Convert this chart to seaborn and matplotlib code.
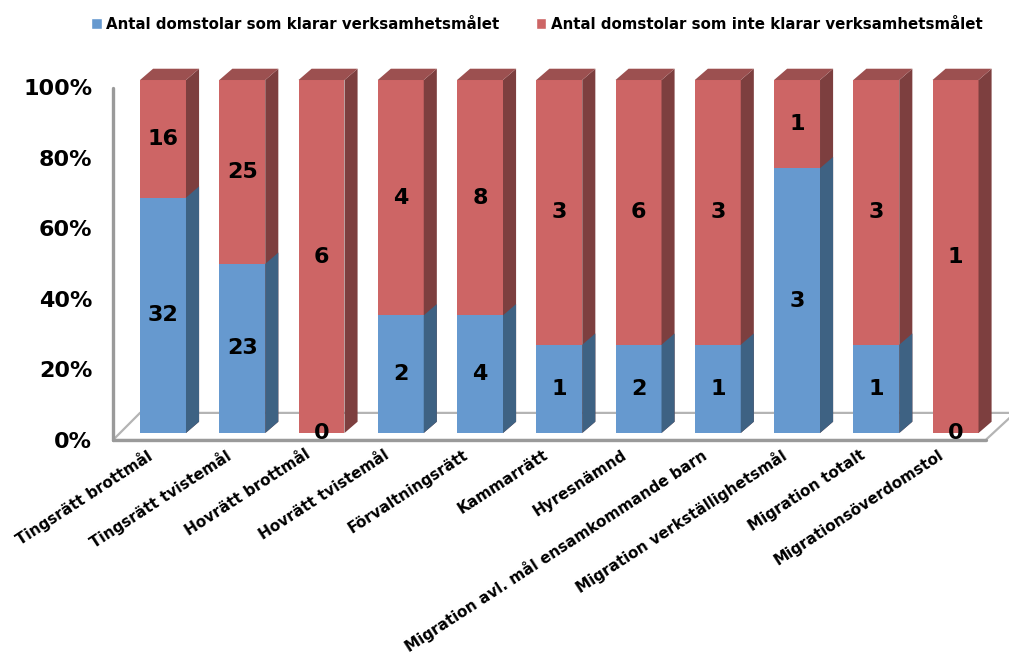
import matplotlib
matplotlib.use("Agg")
import matplotlib.pyplot as plt
import matplotlib.transforms as mtransforms
from matplotlib.patches import Patch, Polygon
import numpy as np
import pandas as pd
import seaborn as sns

# Data
categories = ['Tingsrätt brottmål', 'Tingsrätt tvistemål', 'Hovrätt brottmål',
              'Hovrätt tvistemål', 'Förvaltningsrätt', 'Kammarrätt', 'Hyresnämnd',
              'Migration avl. mål ensamkommande barn', 'Migration verkställighetsmål',
              'Migration totalt', 'Migrationsöverdomstol']
klarar = [32, 23, 0, 2, 4, 1, 2, 1, 3, 1, 0]
klarar_inte = [16, 25, 6, 4, 8, 3, 6, 3, 1, 3, 1]
legend_labels = ['Antal domstolar som klarar verksamhetsmålet',
                 'Antal domstolar som inte klarar verksamhetsmålet']
y_ticks = [0, 0.2, 0.4, 0.6, 0.8, 1.0]
y_ticklabels = ['0%', '20%', '40%', '60%', '80%', '100%']

df = pd.DataFrame({'kategori': categories, 'klarar': klarar, 'inte': klarar_inte})
df['total'] = df['klarar'] + df['inte']
df['andel_klarar'] = df['klarar'] / df['total']
df['andel_alla'] = df['total'] / df['total']

blue, blue_side = '#6699cf', '#3e6283'
red, red_side, red_top = '#cd6565', '#7d3f3f', '#9c5050'

sns.set_style('white')
plt.rcParams['font.family'] = ['DejaVu Sans']
plt.rcParams['text.color'] = 'black'
plt.rcParams['xtick.color'] = 'black'
plt.rcParams['ytick.color'] = 'black'

fig = plt.figure(figsize=(10.09, 6.62), dpi=100)
ax = fig.add_axes([113 / 1009, 1 - 440 / 662, (1000 - 113) / 1009, (440 - 60) / 662])

# depth offsets for the fake 3D look
dx, dy = 0.165, 0.032

sns.barplot(data=df, x='kategori', y='andel_alla', color=red, saturation=1,
            width=0.58, linewidth=0, ax=ax, zorder=3)
sns.barplot(data=df, x='kategori', y='andel_klarar', color=blue, saturation=1,
            width=0.58, linewidth=0, ax=ax, zorder=4)

n = len(categories)
red_bars = ax.patches[:n]
blue_bars = ax.patches[n:2 * n]

for bar in red_bars:
    x0, w, h = bar.get_x(), bar.get_width(), bar.get_height()
    side = [(x0 + w, 0), (x0 + w + dx, dy), (x0 + w + dx, h + dy), (x0 + w, h)]
    top = [(x0, h), (x0 + dx, h + dy), (x0 + w + dx, h + dy), (x0 + w, h)]
    ax.add_patch(Polygon(side, closed=True, color=red_side, lw=0, zorder=3))
    ax.add_patch(Polygon(top, closed=True, color=red_top, lw=0, zorder=3))

for bar in blue_bars:
    x0, w, h = bar.get_x(), bar.get_width(), bar.get_height()
    if h <= 0:
        continue
    side = [(x0 + w, 0), (x0 + w + dx, dy), (x0 + w + dx, h + dy), (x0 + w, h)]
    ax.add_patch(Polygon(side, closed=True, color=blue_side, lw=0, zorder=4))

# value labels
for i, row in df.iterrows():
    a = row['andel_klarar']
    ax.text(i, a / 2, str(row['klarar']), ha='center', va='center',
            fontsize=16, fontweight='bold', color='black', zorder=6)
    ax.text(i, a + (1 - a) / 2, str(row['inte']), ha='center', va='center',
            fontsize=16, fontweight='bold', color='black', zorder=6)

ax.set_xlim(-0.631, 10.561)
ax.set_ylim(-0.0198, 1.0567)

# floor and wall
floor = Polygon([(-0.631, -0.0198), (-0.29, 0.057), (10.75, 0.057), (10.38, -0.0198)],
                closed=True, facecolor='white', edgecolor='#b4b4b4', lw=1.6,
                zorder=1, clip_on=False)
ax.add_patch(floor)
ax.plot([-0.631, 10.38], [-0.0198, -0.0198], color='#9a9a9a', lw=2.4,
        zorder=2, clip_on=False)
ax.plot([-0.631, -0.631], [-0.0198, 0.978], color='#9a9a9a', lw=2.4,
        zorder=2, clip_on=False)

for s in ax.spines.values():
    s.set_visible(False)

ax.set_xlabel('')
ax.set_ylabel('')
ax.set_yticks([t - 0.0198 for t in y_ticks])
ax.set_yticklabels(y_ticklabels, fontsize=16, fontweight='bold')
ax.tick_params(axis='y', length=0, pad=15)
ax.set_xticks(range(n))
ax.set_xticklabels(categories, rotation=33, ha='right', rotation_mode='anchor',
                   fontsize=11, fontweight='bold')
ax.tick_params(axis='x', length=0, pad=5)
offset = mtransforms.ScaledTranslation(-0.17, 0, fig.dpi_scale_trans)
for lab in ax.get_xticklabels():
    lab.set_transform(lab.get_transform() + offset)

handles = [Patch(facecolor=blue, label=legend_labels[0]),
           Patch(facecolor=red, label=legend_labels[1])]
fig.legend(handles=handles, loc='upper center', bbox_to_anchor=(0.532, 0.995),
           ncol=2, frameon=False, handlelength=0.7, handleheight=0.7,
           handletextpad=0.3, columnspacing=2.4,
           prop={'weight': 'bold', 'size': 10.8})

fig.savefig('out.png', dpi=100)
